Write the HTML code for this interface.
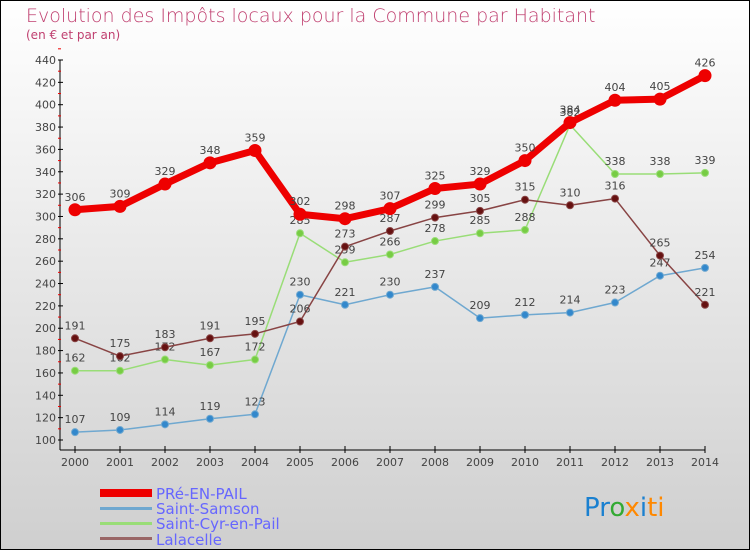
<!DOCTYPE html>
<html><head><meta charset="utf-8"><style>
body{margin:0;width:750px;height:550px;overflow:hidden;font-family:"DejaVu Sans","Liberation Sans",sans-serif}
svg{display:block}
</style></head><body>
<svg id="chart" width="750" height="550" xmlns="http://www.w3.org/2000/svg">
<defs><linearGradient id="bg" x1="0" y1="0" x2="0" y2="1"><stop offset="0" stop-color="#ffffff"/><stop offset="1" stop-color="#cfcfcf"/></linearGradient></defs>
<rect x="0.5" y="0.5" width="749" height="549" fill="url(#bg)" stroke="#000"/>
<text x="26" y="22" font-size="19" fill="#c04070" font-weight="200">Evolution des Impôts locaux pour la Commune par Habitant</text>
<text x="26" y="39" font-size="12" fill="#c04070">(en € et par an)</text>
<g id="axes"></g>
<g id="series"></g>
<g font-size="15" fill="#6666ff">
<rect x="100" y="489" width="52" height="8" fill="#e00"/>
<text x="156" y="499">PRé-EN-PAIL</text>
<rect x="100" y="507" width="52" height="3" fill="#6fa8d0"/>
<text x="156" y="514">Saint-Samson</text>
<rect x="100" y="522" width="52" height="3" fill="#99dd77"/>
<text x="156" y="529">Saint-Cyr-en-Pail</text>
<rect x="100" y="537" width="52" height="3" fill="#996666"/>
<text x="156" y="545">Lalacelle</text>
</g>
<text x="584" y="516" font-size="26" font-family="'DejaVu Sans',sans-serif"><tspan fill="#1a80d0">Pr</tspan><tspan fill="#33aa33">o</tspan><tspan fill="#ff8800">x</tspan><tspan fill="#1a80d0">i</tspan><tspan fill="#ff8800">ti</tspan></text>
</svg>
<script>
const years=[2000,2001,2002,2003,2004,2005,2006,2007,2008,2009,2010,2011,2012,2013,2014];
const pre=[306,309,329,348,359,302,298,307,325,329,350,384,404,405,426];
const samson=[107,109,114,119,123,230,221,230,237,209,212,214,223,247,254];
const cyr=[162,162,172,167,172,285,259,266,278,285,288,382,338,338,339];
const lalacelle=[191,175,183,191,195,206,273,287,299,305,315,310,316,265,221];
const yTicks=[100,120,140,160,180,200,220,240,260,280,300,320,340,360,380,400,420,440];
const NS="http://www.w3.org/2000/svg";
const X=i=>75+i*45;
const Y=v=>440-(v-100)*380/340;
function mk(tag,attrs,parent){const e=document.createElementNS(NS,tag);for(const k in attrs)e.setAttribute(k,attrs[k]);parent.appendChild(e);return e;}
const ax=document.getElementById('axes');
let a=mk('line',{x1:60,y1:Y(440),x2:60,y2:450,stroke:'#000'},ax);


a=mk('line',{x1:60,y1:450,x2:X(14),y2:450,stroke:'#000'},ax);


yTicks.forEach(t=>{
  mk('line',{x1:58,y1:Y(t),x2:63,y2:Y(t),stroke:'#000'},ax);
  mk('line',{x1:58,y1:Y(t+10),x2:61,y2:Y(t+10),stroke:'#e00'},ax);
  const tx=mk('text',{x:56,y:Y(t)+4,'font-size':11,fill:'#444','text-anchor':'end'},ax);
  tx.textContent=t;
  
  
});
years.forEach((yr,i)=>{
  mk('line',{x1:X(i),y1:446,x2:X(i),y2:453,stroke:'#000'},ax);
  const tx=mk('text',{x:X(i),y:466,'font-size':11,fill:'#444','text-anchor':'middle'},ax);
  tx.textContent=yr;
  
  
});
const sg=document.getElementById('series');
function series(vals,color,dot,w,r,name){
  const g=mk('g',{},sg);
  
  
  const pts=vals.map((v,i)=>X(i)+','+Y(v)).join(' ');
  mk('polyline',{points:pts,fill:'none',stroke:color,'stroke-width':w,'stroke-linejoin':'round'},g);
  vals.forEach((v,i)=>{
    const c=mk('circle',{cx:X(i),cy:Y(v),r:r,fill:dot,stroke:color,'stroke-width':1},g);
    
    
    const t=mk('text',{x:X(i),y:Y(v)-9,'font-size':11,fill:'#444','text-anchor':'middle'},g);
    t.textContent=v;
    
    
  });
}
series(samson,'#6fa8d0','#3388cc',1.5,3.5,'saint-samson');
series(cyr,'#99dd77','#77cc44',1.5,3.5,'saint-cyr');
series(lalacelle,'#884444','#661111',1.5,3.5,'lalacelle');
series(pre,'#ee0000','#ee0000',7,6,'pre-en-pail');
</script>
</body></html>
